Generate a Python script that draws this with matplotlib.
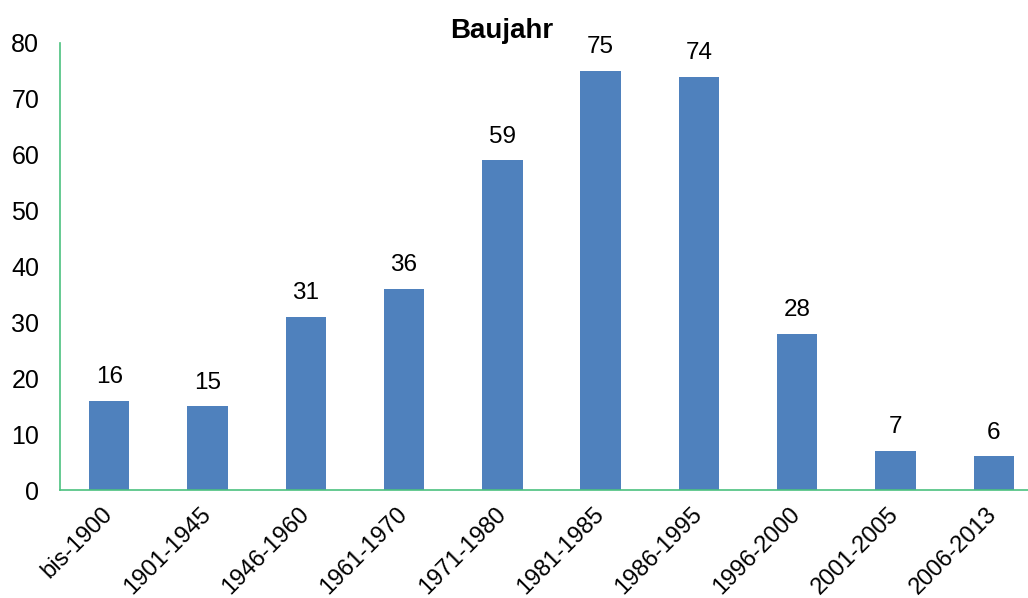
import matplotlib.pyplot as plt

plt.rcParams['font.family'] = ['Liberation Sans', 'DejaVu Sans']

# Baujahr-Kategorien und Anzahl
kategorien = ["bis-1900", "1901-1945", "1946-1960", "1961-1970", "1971-1980",
              "1981-1985", "1986-1995", "1996-2000", "2001-2005", "2006-2013"]
anzahl = [16, 15, 31, 36, 59, 75, 74, 28, 7, 6]
y_ticks = [0, 10, 20, 30, 40, 50, 60, 70, 80]

fig = plt.figure(figsize=(10.28, 5.98), dpi=100)
ax = fig.add_axes([60 / 1028, 108 / 598, 983 / 1028, 447 / 598])

x = range(len(kategorien))
bars = ax.bar(x, anzahl, width=0.41, color="#4F81BD")

# Werte über den Balken
for b, v in zip(bars, anzahl):
    ax.annotate(str(v), (b.get_x() + b.get_width() / 2, v),
                xytext=(0, 9), textcoords="offset points",
                ha="center", va="bottom", fontsize=17.5)

ax.set_xlim(-0.5, 9.5)
ax.set_ylim(0, 80)
ax.set_yticks(y_ticks)
ax.set_xticks(list(x))
ax.set_xticklabels(kategorien, rotation=45, ha="right", va="center",
                   rotation_mode="anchor", fontsize=17)
ax.tick_params(axis="y", labelsize=18, length=0, pad=15)
ax.tick_params(axis="x", length=0, pad=15)

for s in ["top", "right"]:
    ax.spines[s].set_visible(False)
for s in ["left", "bottom"]:
    ax.spines[s].set_color("#4CC17F")
    ax.spines[s].set_linewidth(1.2)

fig.text(502 / 1028, 567 / 598, "Baujahr", ha="center", va="center",
         fontsize=20, fontweight="bold")

plt.savefig("out.png", dpi=100)
